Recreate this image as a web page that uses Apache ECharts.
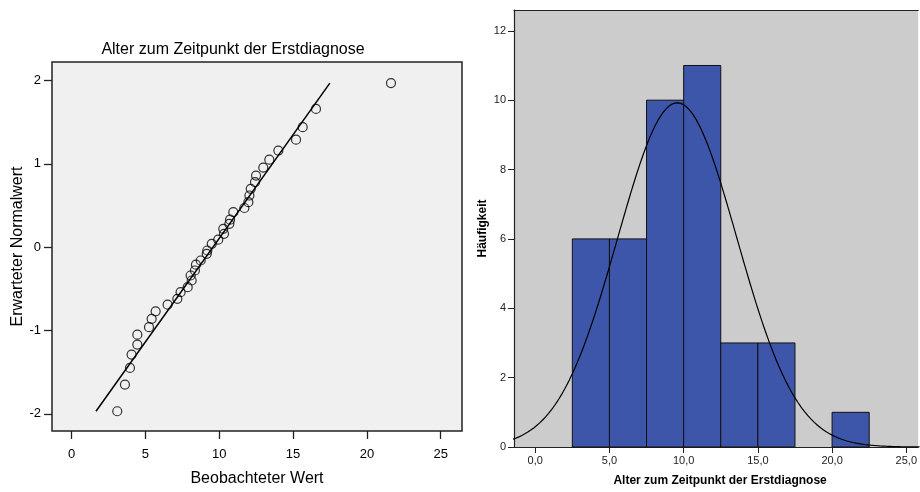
<!DOCTYPE html>
<html>
<head>
<meta charset="utf-8">
<script src="https://cdn.jsdelivr.net/npm/echarts@6/dist/echarts.min.js"></script>
<style>
  html, body { margin: 0; padding: 0; background: #ffffff; }
  #chart { width: 920px; height: 492px; }
</style>
</head>
<body>
<div id="chart"></div>
<script>
// Q-Q plot: observed ages and their expected normal scores
const observedAge = [
  3.09, 3.61, 3.95, 4.06, 4.45, 4.45, 5.24, 5.42, 5.69, 6.50,
  7.16, 7.38, 7.86, 8.13, 8.06, 8.35, 8.42, 8.74, 9.15, 9.19,
  9.49, 9.93, 10.32, 10.27, 10.68, 10.73, 10.95, 11.70, 11.97, 12.04,
  12.13, 12.42, 12.49, 12.98, 13.39, 14.00, 15.20, 15.65, 16.55, 21.63
];
const expectedNormal = [
  -1.97, -1.65, -1.45, -1.29, -1.17, -1.05, -0.96, -0.86, -0.77, -0.69,
  -0.62, -0.54, -0.48, -0.40, -0.34, -0.28, -0.21, -0.16, -0.08, -0.04,
   0.04,  0.09,  0.16,  0.22,  0.28,  0.33,  0.42,  0.47,  0.54,  0.62,
   0.70,  0.78,  0.86,  0.955, 1.05, 1.16,  1.29,  1.44,  1.66,  1.97
];

// Histogram bins (width 2.5) and counts
const binStarts = [2.5, 5.0, 7.5, 10.0, 12.5, 15.0, 20.0];
const binCounts = [6, 6, 10, 11, 3, 3, 1];
const binWidth = 2.5;

// Sample statistics used for the reference line and the normal curve
const sampleMean = 9.57;
const sampleSd = 4.02;
const sampleN = 40;
const zRange = [-1.97, 1.97];

// Tick labels
const ageTicks = [0, 5, 10, 15, 20, 25];
const qqTicks = [-2, -1, 0, 1, 2];
const freqTicks = [0, 2, 4, 6, 8, 10, 12];

const FONT = 'Liberation Sans, Arial, sans-serif';

const qqPoints = observedAge.map((v, i) => [v, expectedNormal[i]]);
const qqLine = zRange.map(z => [sampleMean + z * sampleSd, z]);

const histData = binStarts.map((s, i) => [s, s + binWidth, binCounts[i]]);

const curveX = [];
for (let x = -1.5; x <= 26.0; x += 0.1) curveX.push(+x.toFixed(2));
const normalCurve = curveX.map(x => {
  const z = (x - sampleMean) / sampleSd;
  return [x, sampleN * binWidth * Math.exp(-0.5 * z * z) / (sampleSd * Math.sqrt(2 * Math.PI))];
});

const chart = echarts.init(document.getElementById('chart'), null, { renderer: 'canvas' });

const edgeLine = { show: true, onZero: false, lineStyle: { color: '#222', width: 1.2 } };

chart.setOption({
  animation: false,
  backgroundColor: '#ffffff',
  title: {
    text: 'Alter zum Zeitpunkt der Erstdiagnose',
    left: 233, top: 42, textAlign: 'center', padding: 0,
    textStyle: { fontFamily: FONT, fontSize: 16, fontWeight: 'normal', color: '#000' }
  },
  grid: [
    { left: 52, top: 62, width: 410, height: 371, show: true,
      backgroundColor: '#f0f0f0', borderColor: '#222', borderWidth: 1.5 },
    { left: 514, top: 10, right: 0, height: 439.5, show: true,
      backgroundColor: '#cccccc', borderWidth: 0 }
  ],
  xAxis: [
    { type: 'value', gridIndex: 0, min: -1.33, max: 26.44,
      name: 'Beobachteter Wert', nameLocation: 'middle', nameGap: 40,
      nameTextStyle: { fontFamily: FONT, fontSize: 16, color: '#000' },
      axisLine: { show: false, onZero: false },
      axisTick: { show: true, inside: false, length: 8, customValues: ageTicks, lineStyle: { color: '#222', width: 1.3 } },
      axisLabel: { customValues: ageTicks, margin: 17, fontFamily: FONT, fontSize: 13, color: '#000' },
      splitLine: { show: false } },
    { type: 'value', gridIndex: 1, min: -1.43, max: 25.8, position: 'bottom',
      name: 'Alter zum Zeitpunkt der Erstdiagnose', nameLocation: 'middle', nameGap: 28,
      nameTextStyle: { fontFamily: FONT, fontSize: 12, fontWeight: 'bold', color: '#000', padding: [0, 0, 0, 8] },
      axisLine: edgeLine,
      axisTick: { show: true, inside: false, length: 6, customValues: ageTicks, lineStyle: { color: '#222' } },
      axisLabel: { customValues: ageTicks, margin: 8, fontFamily: FONT, fontSize: 11, color: '#222',
        formatter: v => v.toFixed(1).replace('.', ',') },
      splitLine: { show: false } },
    // top edge of the histogram frame
    { type: 'value', gridIndex: 1, min: -1.43, max: 25.8, position: 'top',
      axisLine: edgeLine, axisTick: { show: false }, axisLabel: { show: false },
      splitLine: { show: false } }
  ],
  yAxis: [
    { type: 'value', gridIndex: 0, min: -2.207, max: 2.223,
      name: 'Erwarteter Normalwert', nameLocation: 'middle', nameGap: 26,
      nameTextStyle: { fontFamily: FONT, fontSize: 16, color: '#000' },
      axisLine: { show: false, onZero: false },
      axisTick: { show: true, inside: false, length: 8, customValues: qqTicks, lineStyle: { color: '#222', width: 1.3 } },
      axisLabel: { customValues: qqTicks, margin: 11, fontFamily: FONT, fontSize: 13, color: '#000' },
      splitLine: { show: false } },
    { type: 'value', gridIndex: 1, min: 0, max: 12.6,
      name: 'Häufigkeit', nameLocation: 'middle', nameGap: 25,
      nameTextStyle: { fontFamily: FONT, fontSize: 12, fontWeight: 'bold', color: '#000' },
      axisLine: edgeLine,
      axisTick: { show: true, inside: false, length: 6, customValues: freqTicks, lineStyle: { color: '#222' } },
      axisLabel: { customValues: freqTicks, margin: 8, fontFamily: FONT, fontSize: 11, color: '#222' },
      splitLine: { show: false } }
  ],
  series: [
    { type: 'line', xAxisIndex: 0, yAxisIndex: 0, data: qqLine,
      showSymbol: false, lineStyle: { color: '#000', width: 1.5 }, z: 2 },
    { type: 'scatter', xAxisIndex: 0, yAxisIndex: 0, data: qqPoints,
      symbol: 'circle', symbolSize: 9,
      itemStyle: { color: 'rgba(0,0,0,0)', borderColor: '#000', borderWidth: 1.2 }, z: 3 },
    { type: 'custom', xAxisIndex: 1, yAxisIndex: 1, data: histData,
      encode: { x: [0, 1], y: 2 },
      renderItem: (params, api) => {
        const top = api.coord([api.value(0), api.value(2)]);
        const bottom = api.coord([api.value(1), 0]);
        return {
          type: 'rect',
          shape: { x: top[0], y: top[1], width: bottom[0] - top[0], height: bottom[1] - top[1] },
          style: { fill: '#3e56a9', stroke: '#111', lineWidth: 1 }
        };
      }, z: 2 },
    { type: 'line', xAxisIndex: 1, yAxisIndex: 1, data: normalCurve,
      showSymbol: false, smooth: false, clip: true,
      lineStyle: { color: '#000', width: 1.2 }, z: 3 }
  ]
});
</script>
</body>
</html>
